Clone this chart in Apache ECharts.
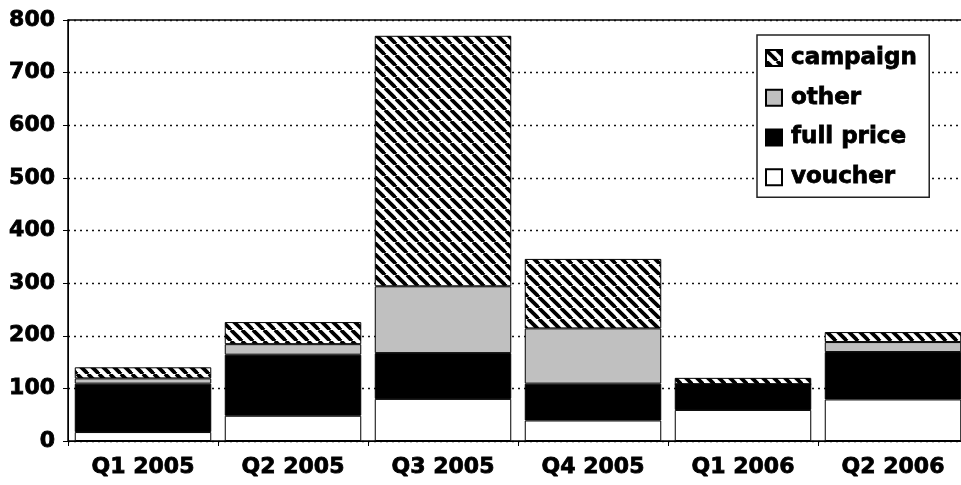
<!DOCTYPE html>
<html>
<head>
<meta charset="utf-8">
<script src="https://cdn.jsdelivr.net/npm/echarts@6/dist/echarts.min.js"></script>
<style>
  html, body { margin: 0; padding: 0; background: #fff; }
  #chart { width: 961px; height: 485px; }
</style>
</head>
<body>
<div id="chart"></div>
<script>
// data
var quarters = ['Q1 2005', 'Q2 2005', 'Q3 2005', 'Q4 2005', 'Q1 2006', 'Q2 2006']
var voucher = [17, 48, 80, 39, 59, 79]
var fullPrice = [92, 116, 87, 70, 49, 90]
var other = [10, 20, 127, 105, 0, 19]
var campaign = [21, 42, 476, 132, 12, 19]
var legendOrder = ['campaign', 'other', 'full price', 'voucher']

// diagonal hatch for campaign
function hatch() {
  var s = 11
  var c = document.createElement('canvas')
  c.width = s
  c.height = s
  var ctx = c.getContext('2d')
  ctx.fillStyle = '#fff'
  ctx.fillRect(0, 0, s, s)
  ctx.strokeStyle = '#000'
  ctx.lineWidth = 3.8
  ;[-s, 0, s].forEach(function(o) {
    ctx.beginPath()
    ctx.moveTo(o, 0)
    ctx.lineTo(o + s, s)
    ctx.stroke()
  })
  return { image: c, repeat: 'repeat' }
}

var font = 'DejaVu Sans'
var heavy = {
  fontFamily: font,
  fontWeight: 'bold',
  fontSize: 22,
  color: '#000',
  textBorderColor: '#000',
  textBorderWidth: 0.8
}
var chart = echarts.init(document.getElementById('chart'))

function bar(name, data, color) {
  return {
    name: name,
    type: 'bar',
    stack: 'all',
    data: data,
    barCategoryGap: '9%',
    itemStyle: { color: color, borderColor: '#000', borderWidth: 1 },
    emphasis: { disabled: true }
  }
}

chart.setOption({
  animation: false,
  backgroundColor: '#fff',
  grid: {
    left: 68,
    top: 20,
    width: 900,
    height: 421,
    outerBoundsMode: 'none',
    show: true,
    borderColor: '#000',
    borderWidth: 1.5
  },
  legend: {
    data: legendOrder,
    orient: 'vertical',
    left: 757,
    top: 35,
    padding: [11, 12, 8, 8],
    itemGap: 16,
    itemWidth: 16,
    itemHeight: 16,
    icon: 'rect',
    backgroundColor: '#fff',
    borderColor: '#222',
    borderWidth: 1.5,
    textStyle: Object.assign({}, heavy, { fontSize: 23, padding: [0, 0, 0, 4] })
  },
  xAxis: {
    type: 'category',
    data: quarters,
    axisLine: { lineStyle: { color: '#000', width: 1 } },
    axisTick: { show: true, length: 5, lineStyle: { color: '#000' } },
    axisLabel: Object.assign({}, heavy, { margin: 15 })
  },
  yAxis: {
    type: 'value',
    min: 0,
    max: 800,
    interval: 100,
    axisLine: { show: true, lineStyle: { color: '#000', width: 1 } },
    axisTick: { show: true, length: 5, lineStyle: { color: '#000' } },
    axisLabel: Object.assign({}, heavy, { margin: 13 }),
    splitLine: {
      show: true,
      lineStyle: { color: '#111', type: [2, 4], width: 1.3 }
    }
  },
  series: [
    bar('voucher', voucher, '#fff'),
    bar('full price', fullPrice, '#000'),
    bar('other', other, '#c0c0c0'),
    bar('campaign', campaign, hatch())
  ]
})

window.addEventListener('resize', function() {
  chart.resize()
})
</script>
</body>
</html>
